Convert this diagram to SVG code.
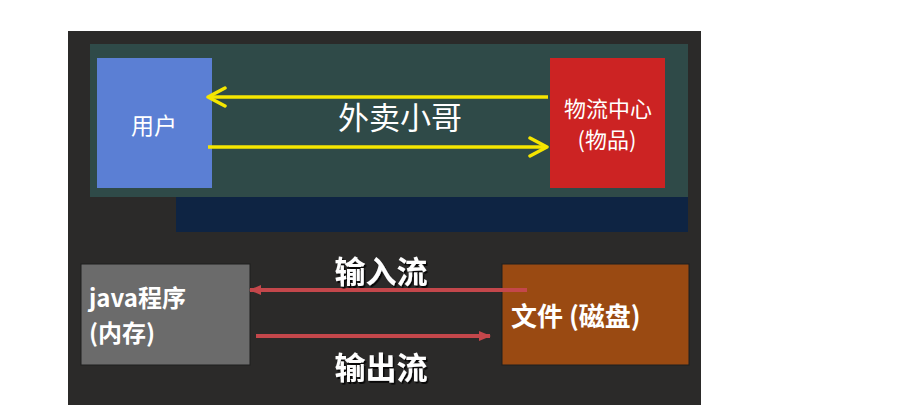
<svg xmlns="http://www.w3.org/2000/svg" width="905" height="420" viewBox="0 0 905 420">
<defs>
<style>
.t{font-family:"Noto Sans CJK SC","Liberation Sans",sans-serif;fill:#fff}
.b{font-weight:bold}
.y{stroke:#f5e600;stroke-width:3.5;fill:none}
.r{stroke:#c4474b;stroke-width:4;fill:none}
</style>
<marker id="ya" viewBox="0 0 22 22" refX="20" refY="11" markerWidth="22" markerHeight="22" markerUnits="userSpaceOnUse" orient="auto">
<path d="M3,2 L20,11 L3,20" fill="none" stroke="#f5e600" stroke-width="3.5" stroke-linecap="round" stroke-linejoin="round"/>
</marker>
<marker id="ra" viewBox="0 0 12 12" refX="11" refY="6" markerWidth="12" markerHeight="12" markerUnits="userSpaceOnUse" orient="auto">
<path d="M0,1 L12,6 L0,11 Z" fill="#c4474b"/>
</marker>
<filter id="sh" x="-10%" y="-10%" width="130%" height="140%">
<feDropShadow dx="1.5" dy="2" stdDeviation="0.6" flood-color="#000" flood-opacity="0.8"/>
</filter>
</defs>
<rect width="905" height="420" fill="#fff"/>
<rect x="68" y="31" width="633" height="374" fill="#2b2a29"/>
<rect x="90" y="44" width="598" height="153" fill="#2f4a48"/>
<rect x="176" y="197" width="512" height="35" fill="#0e2443"/>
<g id="user"><rect x="97" y="58" width="115" height="130" fill="#5b7fd4"/><text class="t" x="154" y="134" font-size="23" text-anchor="middle">用户</text></g>
<g id="logistics"><rect x="550" y="58" width="115" height="130" fill="#cc2323"/><text class="t" x="608" y="117" font-size="22" text-anchor="middle">物流中心</text><text class="t" x="607" y="148" font-size="22" text-anchor="middle">(物品)</text></g>
<g id="java"><rect x="81" y="264" width="169" height="101" fill="#6b6b6b" stroke="#1e1e1e" stroke-width="1"/><text class="t b" x="89" y="307" font-size="24">java程序</text><text class="t b" x="89" y="342" font-size="24">(内存)</text></g>
<g id="file"><rect x="502" y="264" width="187" height="101" fill="#9a4a12" stroke="#1e1e1e" stroke-width="1"/><text class="t b" x="511" y="326" font-size="26">文件 (磁盘)</text></g>
<g id="connectors">
<line class="y" x1="548" y1="97" x2="208" y2="97" marker-end="url(#ya)"/>
<line class="y" x1="208" y1="147" x2="547" y2="147" marker-end="url(#ya)"/>
<line class="r" x1="527" y1="290" x2="250" y2="290" marker-end="url(#ra)"/>
<line class="r" x1="256" y1="336" x2="490" y2="336" marker-end="url(#ra)"/>
</g>
<text class="t" x="400" y="129" font-size="31" text-anchor="middle">外卖小哥</text>
<text class="t b" x="381" y="283" font-size="31" text-anchor="middle" filter="url(#sh)">输入流</text>
<text class="t b" x="381" y="379" font-size="31" text-anchor="middle" filter="url(#sh)">输出流</text>
</svg>
